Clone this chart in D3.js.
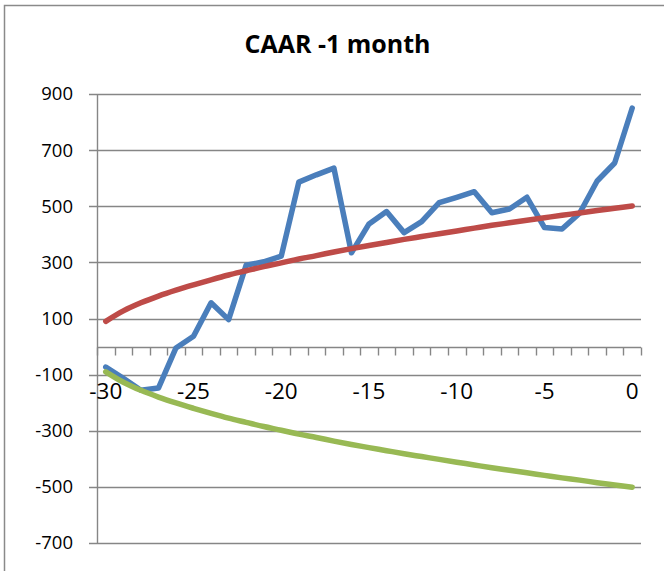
<!DOCTYPE html>
<html>
<head>
<meta charset="utf-8">
<script src="https://cdn.jsdelivr.net/npm/d3@7"></script>
<style>
  body { margin: 0; background: #fff; }
  svg { display: block; font-family: "Open Sans", sans-serif; }
</style>
</head>
<body>
<div id="chart"></div>
<script>
// days before the event
var days = d3.range(-30, 1);
var xLabels = [-30, -25, -20, -15, -10, -5, 0];
var yTicks = [900, 700, 500, 300, 100, -100, -300, -500, -700];

// CAAR series
var caar = [-73, -113, -156, -148, -5, 37, 156, 96, 290, 302, 322, 586, 612, 636, 334,
            437, 481, 406, 445, 513, 532, 552, 477, 490, 532, 424, 419, 475, 590, 654, 850];
var upper = [90, 127, 156, 180, 201, 220, 238, 255, 270, 285, 298, 312, 324, 337, 349,
             360, 371, 382, 392, 402, 412, 422, 432, 441, 450, 459, 468, 476, 485, 493, 501];
var lower = [-90, -127, -156, -180, -201, -220, -238, -255, -270, -285, -298, -312, -324, -337, -349,
             -360, -371, -382, -392, -402, -412, -422, -432, -441, -450, -459, -468, -476, -485, -493, -501];

var svg = d3.select("#chart").append("svg")
    .attr("width", 664)
    .attr("height", 571);

// outer frame
svg.append("rect")
    .attr("x", 4.5).attr("y", 5.5)
    .attr("width", 700).attr("height", 600)
    .attr("fill", "none")
    .attr("stroke", "#8a8a8a")
    .attr("stroke-width", 1.5);

var margin = {top: 94, left: 97, right: 23, bottom: 28};
var width = 664 - margin.left - margin.right,
    height = 571 - margin.top - margin.bottom;

var g = svg.append("g")
    .attr("transform", "translate(" + margin.left + "," + margin.top + ")");

var xChart = d3.scaleBand().domain(days).range([0, width]);
var yChart = d3.scaleLinear().domain([-700, 900]).range([height, 0]);

var axisColor = "#868686";

// gridlines
g.selectAll(".grid")
    .data(yTicks)
    .enter().append("line")
    .attr("class", "grid")
    .attr("x1", -8).attr("x2", width)
    .attr("y1", function(d){ return Math.round(yChart(d)) + 0.5; })
    .attr("y2", function(d){ return Math.round(yChart(d)) + 0.5; })
    .attr("stroke", axisColor)
    .attr("stroke-width", 1.4);

// left axis
g.append("line")
    .attr("x1", 0.5).attr("x2", 0.5)
    .attr("y1", yChart(900)).attr("y2", yChart(-700))
    .attr("stroke", axisColor).attr("stroke-width", 1.4);

g.selectAll(".ylab")
    .data(yTicks)
    .enter().append("text")
    .attr("class", "ylab")
    .attr("x", -24)
    .attr("y", function(d){ return yChart(d); })
    .attr("dy", "0.35em")
    .attr("text-anchor", "end")
    .style("font-size", "18.5px")
    .attr("fill", "#000")
    .text(function(d){ return d; });

// bottom axis at zero
var y0 = Math.round(yChart(0)) + 0.5;
g.append("line")
    .attr("x1", 0).attr("x2", width)
    .attr("y1", y0).attr("y2", y0)
    .attr("stroke", axisColor).attr("stroke-width", 1.4);

var tickPos = days.map(function(d){ return xChart(d); }).concat([width]);
g.selectAll(".xtick")
    .data(tickPos)
    .enter().append("line")
    .attr("class", "xtick")
    .attr("x1", function(d){ return Math.round(d) + 0.5; })
    .attr("x2", function(d){ return Math.round(d) + 0.5; })
    .attr("y1", y0).attr("y2", y0 + 8)
    .attr("stroke", axisColor).attr("stroke-width", 1.4);

g.selectAll(".xlab")
    .data(xLabels)
    .enter().append("text")
    .attr("class", "xlab")
    .attr("x", function(d){ return xChart(d) + xChart.bandwidth() / 2; })
    .attr("y", y0 + 51)
    .attr("text-anchor", "middle")
    .style("font-size", "22.5px")
    .attr("fill", "#000")
    .text(function(d){ return d; });

// series
var line = d3.line()
    .x(function(d, i){ return xChart(days[i]) + xChart.bandwidth() / 2; })
    .y(function(d){ return yChart(d); });

var series = [
    {values: caar, color: "#4a7ebb", curve: d3.curveLinear},
    {values: upper, color: "#be4b48", curve: d3.curveMonotoneX},
    {values: lower, color: "#98b954", curve: d3.curveMonotoneX}
];

series.forEach(function(s){
    g.append("path")
        .datum(s.values)
        .attr("fill", "none")
        .attr("stroke", s.color)
        .attr("stroke-width", 5.5)
        .attr("stroke-linejoin", "round")
        .attr("stroke-linecap", "round")
        .attr("d", line.curve(s.curve));
});

// title
svg.append("text")
    .attr("x", 337.5)
    .attr("y", 53)
    .attr("text-anchor", "middle")
    .style("font-size", "25px")
    .style("font-weight", "bold")
    .attr("fill", "#000")
    .text("CAAR -1 month");
</script>
</body>
</html>
